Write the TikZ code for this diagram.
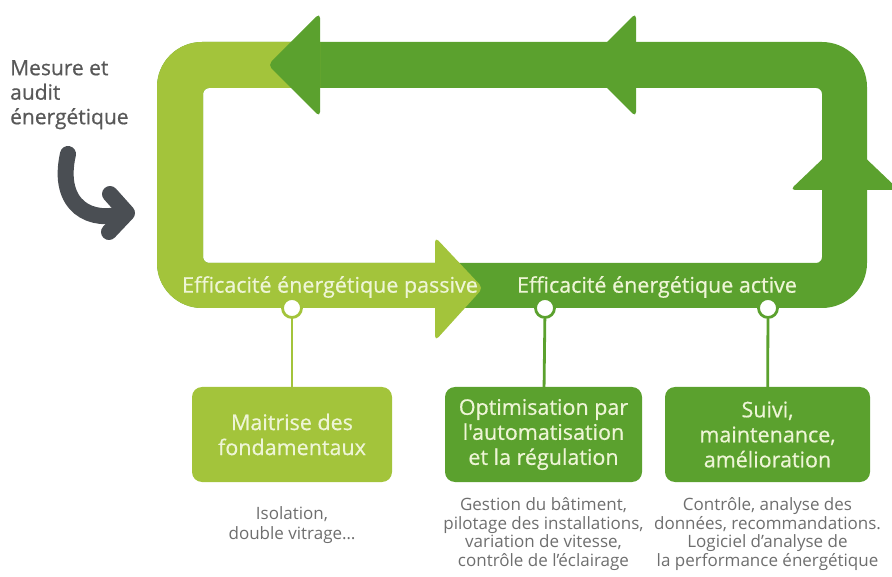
\documentclass[tikz,border=0pt]{standalone}
\usepackage{fontspec}
\setmainfont{Open Sans}
\newfontfamily\mediumfont[FakeBold=0.6]{Open Sans}
\usepackage{xcolor}
\usepackage{tikz}
\usetikzlibrary{positioning, calc}

\definecolor{leafgreen}{HTML}{A3C43B}
\definecolor{grassgreen}{HTML}{5BA12E}
\definecolor{palegreen}{HTML}{EEF5D6}
\definecolor{greytext}{HTML}{6E6E6E}
\definecolor{slate}{HTML}{4A4E53}

\newcommand{\bandloop}{[rounded corners=45pt] (157,42) rectangle (867,308) [rounded corners=6pt] (203,88) rectangle (822,263)}

\begin{document}
\begin{tikzpicture}[
		x=1pt, y=-1pt,
		inner sep=0pt,
		stagebox/.style={
				rectangle,
				align=center,
				minimum height=95pt,
				rounded corners=10pt,
				text=palegreen,
				font=\mediumfont\fontsize{21.5}{25}\selectfont
			},
		bandlabel/.style={
				text=palegreen,
				font=\mediumfont\fontsize{21.5}{25}\selectfont
			},
		note/.style={
				align=center,
				text=greytext,
				font=\fontsize{17}{18.7}\selectfont
			},
		dot/.style={
				circle,
				minimum size=19pt,
				fill=white,
				line width=2.8pt
			},
		chevron/.style={rounded corners=5pt},
		link/.style={line width=2.8pt}
	]

		\useasboundingbox (0,0) rectangle (892,577);
		\clip (0,0) rectangle (892,577);

		\fill[grassgreen, even odd rule] \bandloop;

		\begin{scope}
			\clip (0,0) -- (320,0) -- (320,175) -- (435,175) -- (435,577) -- (0,577) -- cycle;
			\fill[leafgreen, even odd rule] \bandloop;
		\end{scope}

		\fill[grassgreen, chevron] (268,65) -- (320,13) -- (320,117) -- cycle;

		\fill[grassgreen, chevron] (584,65) -- (636,13) -- (636,117) -- cycle;

		\fill[grassgreen, chevron] (844.5,138) -- (790,190) -- (899,190) -- cycle;

		\fill[leafgreen, chevron] (483,288) -- (435,237) -- (435,341) -- cycle;

		\node[bandlabel] (passive) at (330,287) {Efficacité énergétique passive};

		\node[bandlabel] (active) at (657,287) {Efficacité énergétique active};

		\node[align=left, anchor=north west, text=greytext!80!black, font=\mediumfont\fontsize{21}{24.5}\selectfont] (mesure) at (10,60) {Mesure et\\audit\\énergétique};

		\draw[slate, line width=16pt, line cap=round] (68,154) .. controls (56,207) and (92,224) .. (124,213);
		\draw[slate, line width=16pt, line cap=round, line join=round] (110,194) -- (127,213) -- (109,232);

		\node[stagebox, fill=leafgreen, minimum width=200pt] (maitrise) at (292,434.5) {Maitrise des\\fondamentaux};

		\node[stagebox, fill=grassgreen, minimum width=197pt] (optim) at (543.5,434.5) {Optimisation par\\l'automatisation\\et la régulation};

		\node[stagebox, fill=grassgreen, minimum width=205pt] (suivi) at (767.5,434.5) {Suivi,\\maintenance,\\amélioration};

		\node[dot, draw=leafgreen] (dotfond) at (292,308) {};

		\node[dot, draw=grassgreen] (dotoptim) at (545,308) {};

		\node[dot, draw=grassgreen] (dotsuivi) at (768,308) {};

		\draw[link, leafgreen] (dotfond) -- (maitrise);

		\draw[link, grassgreen] (dotoptim) -- (optim);

		\draw[link, grassgreen] (dotsuivi) -- (suivi);

		\node[note, below=24pt of maitrise, font=\fontsize{17}{20.5}\selectfont] (isolation) {Isolation,\\double vitrage…};

		\node[note, below=15pt of optim] (gestion) {Gestion du bâtiment,\\pilotage des installations,\\variation de vitesse,\\contrôle de l'éclairage};

		\node[note, below=15pt of suivi] (controle) {Contrôle, analyse des\\données, recommandations.\\Logiciel d'analyse de\\la performance énergétique};

\end{tikzpicture}
\end{document}
